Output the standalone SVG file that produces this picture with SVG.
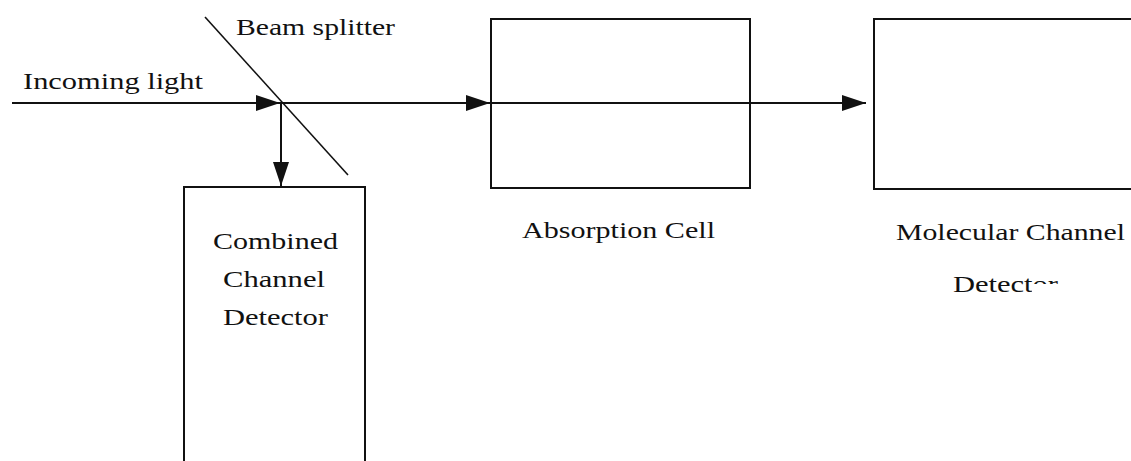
<svg xmlns="http://www.w3.org/2000/svg" width="1131" height="461" viewBox="0 0 1131 461">
<style>
.box{fill:none;stroke:#111;stroke-width:2}
.ln{fill:none;stroke:#111;stroke-width:2}
.t{font-family:"Liberation Serif","Times New Roman",serif;font-size:24px;fill:#111}
</style>
<defs>
<marker id="ah" viewBox="0 0 24 16" refX="24" refY="8" markerWidth="24" markerHeight="16" markerUnits="userSpaceOnUse" orient="auto">
<path d="M0,0 L24,8 L0,16 Z" fill="#111"/>
</marker>
<clipPath id="cut">
<rect x="0" y="0" width="1032" height="461"/>
<rect x="1032" y="0" width="99" height="284"/>
</clipPath>
</defs>
<rect width="1131" height="461" fill="#fff"/>
<g id="connectors">
<line class="ln" x1="12" y1="103" x2="280" y2="103" marker-end="url(#ah)"/>
<line class="ln" x1="280" y1="103" x2="490" y2="103" marker-end="url(#ah)"/>
<line class="ln" x1="490" y1="103" x2="866" y2="103" marker-end="url(#ah)"/>
<line class="ln" x1="281" y1="103" x2="281" y2="186" marker-end="url(#ah)"/>
</g>
<g id="beam-splitter">
<line x1="205" y1="17" x2="348" y2="175" stroke="#111" stroke-width="1.6"/>
<text class="t" x="236" y="35" textLength="159" lengthAdjust="spacingAndGlyphs">Beam splitter</text>
</g>
<g id="incoming-light">
<text class="t" x="23" y="89" textLength="180" lengthAdjust="spacingAndGlyphs">Incoming light</text>
</g>
<g id="combined-detector">
<rect class="box" x="184" y="187" width="181" height="290"/>
<text class="t" x="213" y="249" textLength="125" lengthAdjust="spacingAndGlyphs">Combined</text>
<text class="t" x="223" y="287" textLength="102" lengthAdjust="spacingAndGlyphs">Channel</text>
<text class="t" x="223" y="325" textLength="105" lengthAdjust="spacingAndGlyphs">Detector</text>
</g>
<g id="absorption-cell">
<rect class="box" x="491" y="19" width="259" height="169"/>
<text class="t" x="522" y="238" textLength="193" lengthAdjust="spacingAndGlyphs">Absorption Cell</text>
</g>
<g id="molecular-detector">
<rect class="box" x="874" y="19" width="270" height="170"/>
<text class="t" x="896" y="240" textLength="229" lengthAdjust="spacingAndGlyphs">Molecular Channel</text>
<text class="t" x="953" y="292" textLength="105" lengthAdjust="spacingAndGlyphs" clip-path="url(#cut)">Detector</text>
</g>
</svg>
